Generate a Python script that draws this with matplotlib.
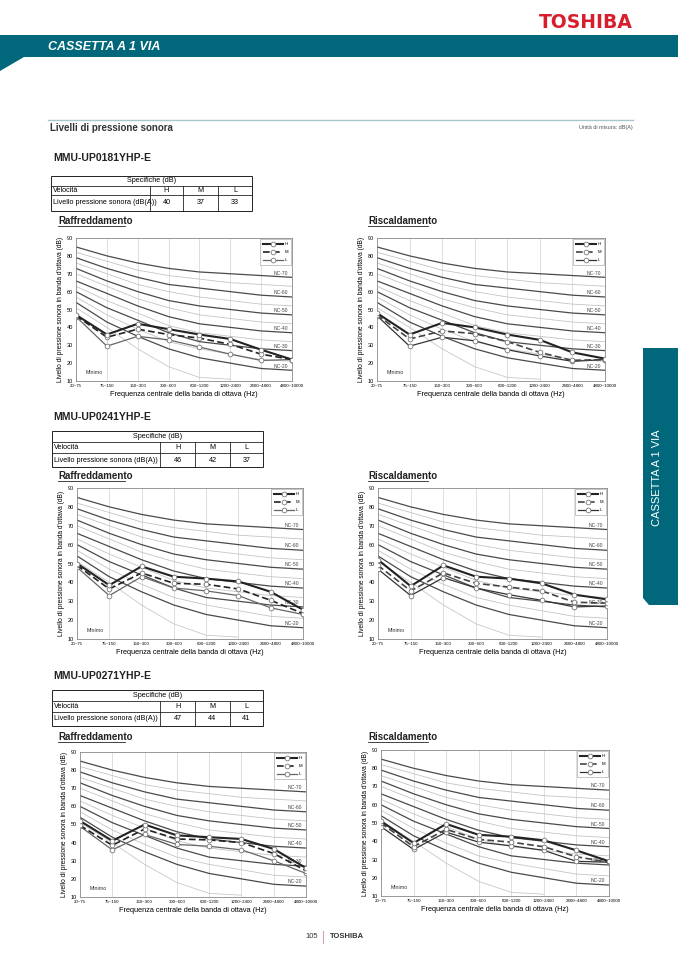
import matplotlib
matplotlib.use("Agg")
import matplotlib.pyplot as plt
from matplotlib.patches import Rectangle, Polygon
import numpy as np

plt.rcParams['font.family'] = ['Liberation Sans', 'DejaVu Sans']

# ---- data ----
bands = ["20~75", "75~150", "150~300", "300~600", "600~1200", "1200~2400", "2400~4800", "4800~10000"]

# NC curves (dark = every 10, light = in between)
nc_70 = [85, 80, 76, 73, 71, 70, 69, 68]
nc_65 = [82, 77, 72, 69, 67, 65, 64, 63]
nc_60 = [79, 73, 68, 64, 62, 60, 58, 57]
nc_55 = [76, 70, 64, 60, 57, 55, 53, 52]
nc_50 = [73, 66, 60, 55, 52, 50, 48, 47]
nc_45 = [70, 63, 56, 51, 47, 45, 43, 42]
nc_40 = [66, 59, 52, 46, 42, 40, 38, 37]
nc_35 = [63, 55, 48, 41, 37, 35, 33, 32]
nc_30 = [60, 51, 44, 37, 32, 30, 28, 27]
nc_25 = [57, 47, 39, 32, 28, 25, 22, 21]
nc_20 = [54, 43, 35, 28, 23, 20, 17, 16]
minimo = [51, 40, 28, 18, 12, 11]

models = ["MMU-UP0181YHP-E", "MMU-UP0241YHP-E", "MMU-UP0271YHP-E"]
spec_H = [40, 46, 47]
spec_M = [37, 42, 44]
spec_L = [33, 37, 41]

cool_0181_H = [47, 36, 42, 39, 36, 33.5, 27.5, 22]
cool_0181_M = [46.5, 34.5, 39, 36, 34, 30.5, 25, 22]
cool_0181_L = [46, 29.5, 35, 33, 29, 25, 21.5, 22]
heat_0181_H = [48, 36, 42.5, 40, 36, 33, 26, 22.5]
heat_0181_M = [47, 33.5, 38, 36.5, 32, 26, 21.5, 22]
heat_0181_L = [46.5, 29.5, 34.5, 32.5, 27.5, 24, 21, 22]

cool_0241_H = [50, 38.5, 48.5, 43, 42, 40.5, 35, 25.5]
cool_0241_M = [49, 36.5, 45, 39.5, 39, 36.5, 30.5, 23.5]
cool_0241_L = [48, 33, 43, 37, 35.5, 33, 26.5, 23]
heat_0241_H = [52, 38, 49, 43, 42, 39.5, 33.5, 31]
heat_0241_M = [49, 35.5, 45, 39.5, 37.5, 35.5, 29.5, 29]
heat_0241_L = [47, 33, 42.5, 37, 33.5, 30.5, 27, 27.5]

cool_0271_H = [52, 41, 50, 44, 43, 42, 36.5, 26]
cool_0271_M = [49.5, 38.5, 47.5, 42, 41.5, 40, 34, 24.5]
cool_0271_L = [49, 36, 44.5, 39, 38, 36, 30, 23]
heat_0271_H = [51, 39, 49.5, 43.5, 42.5, 40.5, 35, 29]
heat_0271_M = [50, 37, 46.5, 41, 39.5, 37, 31.5, 28.5]
heat_0271_L = [48, 35.5, 45, 39.5, 37.5, 35, 29, 28.5]

W, H = 678, 959
TEAL = '#00687a'

fig = plt.figure(figsize=(W / 100, H / 100), dpi=100)
bg = fig.add_axes([0, 0, 1, 1])
bg.set_xlim(0, W)
bg.set_ylim(H, 0)
bg.axis('off')

# header
bg.text(633, 22, "TOSHIBA", color='#d81e2c', fontsize=13.5, fontweight='bold', ha='right', va='center',
        family=['DejaVu Sans'])
bg.add_patch(Rectangle((0, 35), W, 22, color=TEAL, lw=0))
bg.add_patch(Polygon([(0, 57), (24, 57), (0, 71)], closed=True, color=TEAL, lw=0))
bg.text(48, 46.5, "CASSETTA A 1 VIA", color='white', fontsize=9, fontweight='bold',
        style='italic', ha='left', va='center')
bg.plot([48, 633], [120, 120], color='#a9c6cf', lw=1)
bg.text(50, 128, "Livelli di pressione sonora", fontsize=7, fontweight='bold', color='#333', va='center')
bg.text(633, 128, "Unità di misura: dB(A)", fontsize=4, color='#555', ha='right', va='center')

# right tab
bg.add_patch(Polygon([(643, 348), (678, 348), (678, 605), (649, 605), (643, 598)],
                     closed=True, color=TEAL, lw=0))
bg.text(657, 478, "CASSETTA A 1 VIA", color='white', fontsize=8, rotation=90,
        ha='center', va='center')

# footer
bg.text(318, 937, "105", fontsize=5.5, color='#333', ha='right', va='center')
bg.plot([323, 323], [931, 943], color='#d8a0b0', lw=0.8)
bg.text(330, 937, "TOSHIBA", fontsize=5.5, color='#333', ha='left', va='center', fontweight='bold')


def table(x0, cols, rows, i):
    x1 = cols[-1]
    y0, y1, y2, y3 = rows
    bg.add_patch(Rectangle((x0, y0), x1 - x0, y3 - y0, fill=False, ec='#222', lw=0.7))
    bg.plot([x0, x1], [y1, y1], color='#222', lw=0.6)
    bg.plot([x0, x1], [y2, y2], color='#222', lw=0.6)
    for c in cols[:-1]:
        bg.plot([c, c], [y1, y3], color='#222', lw=0.6)
    bg.text((x0 + x1) / 2, (y0 + y1) / 2, "Specifiche (dB)", fontsize=5.2, ha='center', va='center')
    bg.text(x0 + 2, (y1 + y2) / 2, "Velocità", fontsize=5.2, ha='left', va='center')
    bg.text(x0 + 2, (y2 + y3) / 2, "Livello pressione sonora (dB(A))", fontsize=5.2, ha='left', va='center')
    for k, lab in enumerate(["H", "M", "L"]):
        xc = (cols[k] + cols[k + 1]) / 2
        bg.text(xc, (y1 + y2) / 2, lab, fontsize=5.2, ha='center', va='center')
        bg.text(xc, (y2 + y3) / 2, str([spec_H, spec_M, spec_L][k][i]), fontsize=5.2,
                ha='center', va='center')


def section(x, y, txt, width):
    bg.text(x, y, txt, fontsize=7, fontweight='bold', color='#222', ha='left', va='center')
    bg.plot([x, x + width], [y + 5, y + 5], color='#222', lw=0.6)


def chart(box, Hs, Ms, Ls, heating):
    x0, y0, x1, y1 = box
    ax = fig.add_axes([x0 / W, 1 - y1 / H, (x1 - x0) / W, (y1 - y0) / H])
    x = np.arange(len(bands))
    for v in range(1, len(bands) - 1):
        ax.axvline(v, color='#d0d0d0', lw=0.5, zorder=0)
    for c in [nc_65, nc_55, nc_45, nc_35, nc_25]:
        ax.plot(x, c, color='#c4c4c4', lw=0.6, zorder=1)
    ax.plot(np.arange(len(minimo)), minimo, color='#c8c8c8', lw=0.6, zorder=1)
    for c, lab in [(nc_70, "NC-70"), (nc_60, "NC-60"), (nc_50, "NC-50"),
                   (nc_40, "NC-40"), (nc_30, "NC-30"), (nc_20, "NC-20")]:
        ax.plot(x, c, color='#4a4a4a', lw=0.9, zorder=2)
        yl = np.interp(6.65, x, c)
        ax.text(6.65, yl + 0.6, lab, fontsize=3.6, color='#444', ha='center', va='bottom', zorder=3)
    mk = dict(marker='o', markersize=3.4, markerfacecolor='white', markeredgecolor='#777', mew=0.6)
    ax.plot(x, Ls, color='#666' if not heating else '#333', lw=0.9, zorder=4, label='L', **mk)
    ax.plot(x, Ms, color='#222' if not heating else '#444', lw=1.2, ls=(0, (4, 2)), zorder=5, label='M', **mk)
    ax.plot(x, Hs, color='#222', lw=1.5, zorder=6, label='H', **mk)
    ax.text(0.3, 14.5, "Minimo", fontsize=3.8, color='#333', va='center')
    h, l = ax.get_legend_handles_labels()
    leg = ax.legend(h[::-1], l[::-1], loc='upper right', fontsize=3.2, frameon=True, fancybox=False,
                    edgecolor='#999', borderaxespad=0.25, handlelength=4.5, labelspacing=0.85,
                    borderpad=0.7, handletextpad=0.3)
    leg.get_frame().set_linewidth(0.5)
    leg.set_zorder(10)
    ax.set_xlim(0, len(bands) - 1)
    ax.set_ylim(10, 90)
    ax.set_xticks(x)
    ax.set_xticklabels(bands, fontsize=3.2)
    ax.set_yticks(range(10, 91, 10))
    ax.tick_params(axis='y', labelsize=4, length=0, pad=2)
    ax.tick_params(axis='x', length=0, pad=2)
    for s in ax.spines.values():
        s.set_color('#888')
        s.set_linewidth(0.6)
    ax.set_xlabel("Frequenza centrale della banda di ottava (Hz)", fontsize=5.3, labelpad=2)
    ax.set_ylabel("Livello di pressione sonora in banda d'ottava (dB)", fontsize=4.8, labelpad=2)
    return ax


# rows: model title y, table x, table cols, table rows, section y, left box, right box
rows = [
    (158, 51, [150, 183, 218, 252], [176, 186, 195, 211], 221,
     (76, 238, 292, 381), (377, 238, 605, 381)),
    (417, 52, [160, 195, 230, 263], [431, 442, 453, 467], 476,
     (77, 488, 303, 639), (378, 488, 607, 639)),
    (676, 52, [160, 195, 230, 263], [690, 701, 712, 726], 737,
     (80, 752, 306, 897), (381, 750, 609, 896)),
]
series = [
    (cool_0181_H, cool_0181_M, cool_0181_L, heat_0181_H, heat_0181_M, heat_0181_L),
    (cool_0241_H, cool_0241_M, cool_0241_L, heat_0241_H, heat_0241_M, heat_0241_L),
    (cool_0271_H, cool_0271_M, cool_0271_L, heat_0271_H, heat_0271_M, heat_0271_L),
]

for i, (ty, tx0, cols, trows, sy, lbox, rbox) in enumerate(rows):
    bg.text(53, ty, models[i], fontsize=7.5, fontweight='bold', color='#222', va='center')
    table(tx0, cols, trows, i)
    section(58, sy, "Raffreddamento", 67)
    section(368, sy, "Riscaldamento", 60)
    cH, cM, cL, hH, hM, hL = series[i]
    chart(lbox, cH, cM, cL, False)
    chart(rbox, hH, hM, hL, True)

fig.savefig("out.png", dpi=100)
